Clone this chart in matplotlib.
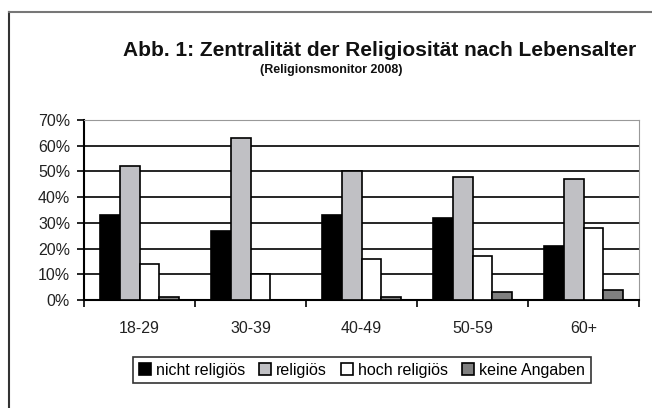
import numpy as np
import matplotlib.pyplot as plt
from matplotlib.lines import Line2D

plt.rcParams['font.family'] = ['Liberation Sans', 'DejaVu Sans']

# Data ----------------------------------------------------

categories = ['18-29', '30-39', '40-49', '50-59', '60+']
series_names = ['nicht religiös', 'religiös', 'hoch religiös', 'keine Angaben']
nicht_religioes = [33, 27, 33, 32, 21]
religioes = [52, 63, 50, 48, 47]
hoch_religioes = [14, 10, 16, 17, 28]
keine_angaben = [1, 0, 1, 3, 4]
yticks = [0, 10, 20, 30, 40, 50, 60, 70]

series = [nicht_religioes, religioes, hoch_religioes, keine_angaben]
colors = ['#000000', '#c0c0c4', '#ffffff', '#808080']

# Figure --------------------------------------------------

W, H = 652, 408
fig = plt.figure(figsize=(W / 100, H / 100), dpi=100)
ax = fig.add_axes([84 / W, 1 - 300 / H, 555 / W, 180 / H])

x = np.arange(len(categories))
bw = 0.18
for i, (vals, c) in enumerate(zip(series, colors)):
    ax.bar(x + (i - 1.5) * bw, vals, bw, color=c, edgecolor='black',
           linewidth=1.2, label=series_names[i], zorder=3)

ax.set_xlim(-0.5, len(categories) - 0.5)
ax.set_ylim(0, 70)
ax.set_yticks(yticks)
ax.set_yticklabels([f'{v}%' for v in yticks], fontsize=11.5, color='#222222')
ax.set_xticks(x)
ax.set_xticklabels(categories, fontsize=11.5, color='#222222')
ax.set_xticks(np.arange(len(categories) + 1) - 0.5, minor=True)
ax.tick_params(axis='x', which='major', length=0, pad=15)
ax.tick_params(axis='x', which='minor', length=5, width=1.2, direction='out')
ax.tick_params(axis='y', length=5, width=1.2, direction='out', pad=5)

for v in yticks[1:-1]:
    ax.axhline(v, color='black', lw=1.2, zorder=1)

ax.spines['left'].set_linewidth(1.5)
ax.spines['bottom'].set_linewidth(1.5)
ax.spines['top'].set_color('#999999')
ax.spines['right'].set_color('#999999')

# Titles --------------------------------------------------

fig.text(380 / W, 1 - 50 / H, 'Abb. 1: Zentralität der Religiosität nach Lebensalter',
         ha='center', va='center', fontsize=15, fontweight='bold', color='#111111')
fig.text(331 / W, 1 - 70 / H, '(Religionsmonitor 2008)',
         ha='center', va='center', fontsize=9, fontweight='bold', color='#111111')

# Legend --------------------------------------------------

leg = fig.legend(loc='center', bbox_to_anchor=(362 / W, 1 - 370 / H), ncol=4,
                 fontsize=11.5, frameon=True, fancybox=False, handlelength=0.75,
                 handleheight=0.75, handletextpad=0.3, columnspacing=0.9,
                 borderpad=0.35, edgecolor='black')
leg.get_frame().set_linewidth(1.2)

# Outer frame (top and left only)
fig.add_artist(Line2D([9 / W, 9 / W], [0, 1 - 12 / H], color='#333333', lw=1.5))
fig.add_artist(Line2D([9 / W, 1], [1 - 12 / H, 1 - 12 / H], color='#777777', lw=1.5))

fig.savefig('out.png', dpi=100)
